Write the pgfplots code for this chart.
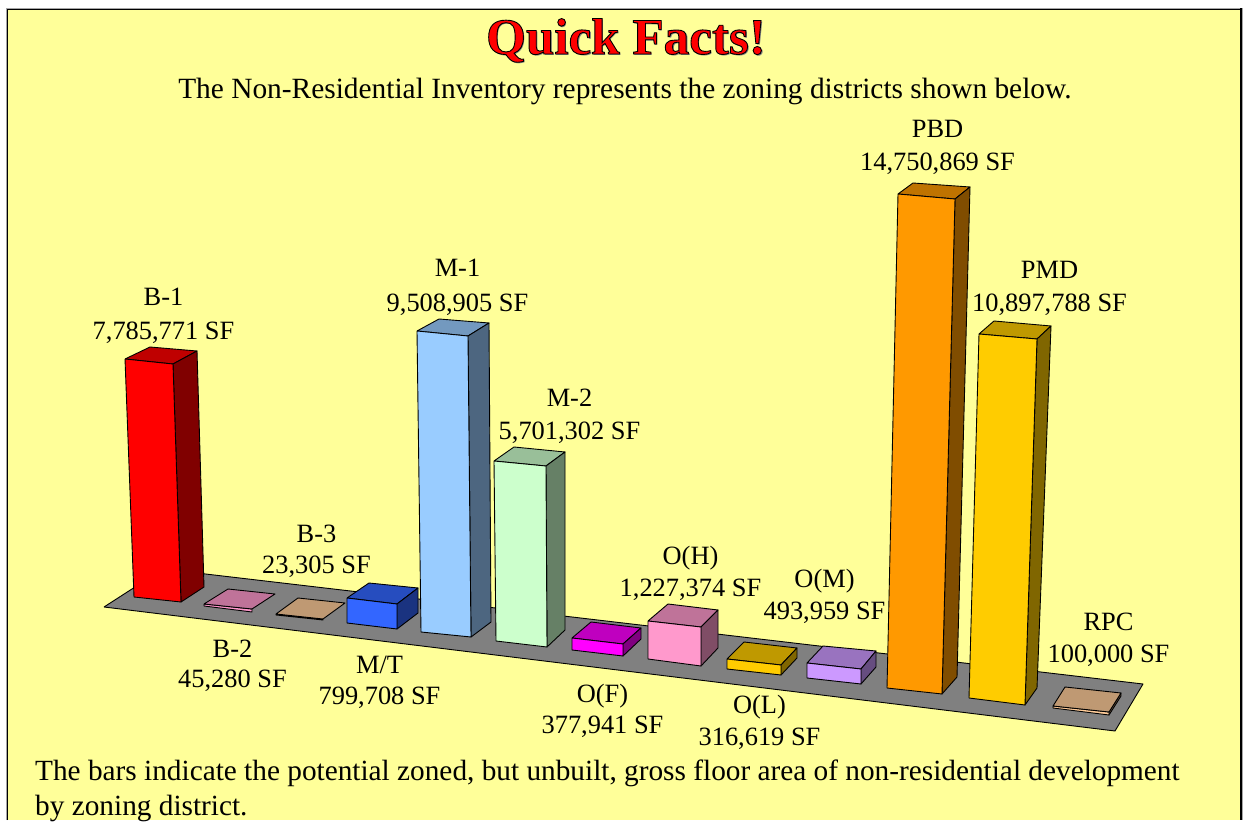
\documentclass[border=0pt]{standalone}
\usepackage{fontspec}
\setmainfont{Liberation Serif}
\usepackage{pgfplots}
\pgfplotsset{compat=1.18}
\definecolor{panel}{HTML}{FFFF99}
\definecolor{floorgray}{HTML}{808080}
\definecolor{redF}{HTML}{FF0000}\definecolor{redT}{HTML}{BF0000}\definecolor{redS}{HTML}{800000}
\definecolor{pinkF}{HTML}{FF99CC}\definecolor{pinkT}{HTML}{BF7399}\definecolor{pinkS}{HTML}{804D66}
\definecolor{tanF}{HTML}{FFCC99}\definecolor{tanT}{HTML}{BF9973}\definecolor{tanS}{HTML}{80664D}
\definecolor{blueF}{HTML}{3366FF}\definecolor{blueT}{HTML}{264DBF}\definecolor{blueS}{HTML}{1A3380}
\definecolor{skyF}{HTML}{99CCFF}\definecolor{skyT}{HTML}{7399BF}\definecolor{skyS}{HTML}{4D6680}
\definecolor{mintF}{HTML}{CCFFCC}\definecolor{mintT}{HTML}{99BF99}\definecolor{mintS}{HTML}{668066}
\definecolor{magF}{HTML}{FF00FF}\definecolor{magT}{HTML}{BF00BF}\definecolor{magS}{HTML}{800080}
\definecolor{goldF}{HTML}{FFCC00}\definecolor{goldT}{HTML}{BF9900}\definecolor{goldS}{HTML}{806600}
\definecolor{lilacF}{HTML}{CC99FF}\definecolor{lilacT}{HTML}{9973BF}\definecolor{lilacS}{HTML}{664D80}
\definecolor{orangeF}{HTML}{FF9900}\definecolor{orangeT}{HTML}{BF7300}\definecolor{orangeS}{HTML}{804D00}

% one polygon of the drawing, in picture pixels
\newcommand{\face}[2]{\addplot[draw=black,line width=0.9pt,line join=round,fill=#1] coordinates {#2};}
% label: x, y of each line, the two lines
\newcommand{\lab}[5]{%
  \node[font=\fontsize{26.5}{26.5}\selectfont,anchor=base,inner sep=0pt,xshift=0.5bp,yshift=-1bp] at (axis cs:#1,#2) {#4};
  \node[font=\fontsize{26.5}{26.5}\selectfont,anchor=base,inner sep=0pt,xshift=0.5bp,yshift=-1bp] at (axis cs:#1,#3) {#5};}

\begin{document}
\begin{tikzpicture}
\begin{axis}[
  scale only axis, width=1246bp, height=820bp,
  xmin=0, xmax=1246, ymin=0, ymax=820, y dir=reverse,
  hide axis, clip=false
]
% page and panel
\addplot[draw=none,fill=white] coordinates {(0,0)(1246,0)(1246,820)(0,820)(0,0)};
\addplot[draw=gray!70,line width=3pt,fill=panel] coordinates {(7,820)(7,9)(1241,9)(1241,820)};
\addplot[draw=black,line width=1.6pt] coordinates {(7.5,820)(7.5,9.5)(1241,9.5)};
\addplot[draw=black,line width=2.6pt] coordinates {(1241,8.5)(1241,820)};

% floor
\face{floorgray}{(104,607)(163,569)(1143,684)(1115,731)(104,607)}

% B-1
\face{redT}{(125,359)(150,347)(197,351)(173,364)(125,359)}
\face{redS}{(173,364)(197,351)(204,587)(181,602)(173,364)}
\face{redF}{(125,359)(173,364)(181,602)(134,597)(125,359)}
% B-2
\face{pinkF}{(204,604)(252,609)(252,612)(204,606)(204,604)}
\face{pinkT}{(204,604)(228,589)(275,594)(252,609)(204,604)}
% B-3
\face{tanF}{(276,614)(323,619)(323,620)(276,615)(276,614)}
\face{tanT}{(276,614)(298,598)(345,603)(323,619)(276,614)}
% M/T
\face{blueT}{(347,598)(369,583)(418,588)(397,604)(347,598)}
\face{blueS}{(397,604)(418,588)(418,613)(397,629)(397,604)}
\face{blueF}{(347,598)(397,604)(397,629)(347,623)(347,598)}
% M-1
\face{skyT}{(417,331)(439,319)(489,323)(468,336)(417,331)}
\face{skyS}{(468,336)(489,323)(491,622)(471,637)(468,336)}
\face{skyF}{(417,331)(468,336)(471,637)(421,632)(417,331)}
% M-2
\face{mintT}{(494,461)(514,447)(565,452)(546,466)(494,461)}
\face{mintS}{(546,466)(565,452)(565,630)(547,647)(546,466)}
\face{mintF}{(494,461)(546,466)(547,647)(496,641)(494,461)}
% O(F)
\face{magT}{(572,638)(591,622)(641,628)(623,644)(572,638)}
\face{magS}{(623,644)(641,628)(641,639)(623,656)(623,644)}
\face{magF}{(572,638)(623,644)(623,656)(572,650)(572,638)}
% O(H)
\face{pinkT}{(648,621)(668,604)(718,610)(701,627)(648,621)}
\face{pinkS}{(701,627)(718,610)(718,648)(701,666)(701,627)}
\face{pinkF}{(648,621)(701,627)(701,666)(648,659)(648,621)}
% O(L)
\face{goldT}{(727,659)(744,642)(797,648)(781,665)(727,659)}
\face{goldS}{(781,665)(797,648)(797,658)(781,675)(781,665)}
\face{goldF}{(727,659)(781,665)(781,675)(727,669)(727,659)}
% O(M)
\face{lilacT}{(807,663)(823,646)(876,651)(861,669)(807,663)}
\face{lilacS}{(861,669)(876,651)(876,667)(861,684)(861,669)}
\face{lilacF}{(807,663)(861,669)(861,684)(807,678)(807,663)}
% PBD
\face{orangeT}{(898,194)(913,183)(970,187)(955,199)(898,194)}
\face{orangeS}{(955,199)(970,187)(957,677)(942,694)(955,199)}
\face{orangeF}{(898,194)(955,199)(942,694)(887,688)(898,194)}
% PMD
\face{goldT}{(979,334)(994,321)(1051,326)(1037,339)(979,334)}
\face{goldS}{(1037,339)(1051,326)(1037,688)(1025,705)(1037,339)}
\face{goldF}{(979,334)(1037,339)(1025,705)(969,698)(979,334)}
% RPC
\face{tanS}{(1109,712)(1121,693)(1121,696)(1109,715)(1109,712)}
\face{tanF}{(1053,706)(1109,712)(1109,715)(1053,708)(1053,706)}
\face{tanT}{(1053,706)(1065,687)(1121,693)(1109,712)(1053,706)}

% title and captions
\node[font=\bfseries\fontsize{51.3}{51.3}\selectfont,anchor=base,text=gray,inner sep=0pt] at (axis cs:627.5,55.5) {Quick Facts!};
\node[font=\bfseries\fontsize{51.3}{51.3}\selectfont,anchor=base,text=red,inner sep=0pt] at (axis cs:626,54) {\special{pdf:code 2 Tr 0.9 w 0 0 0 RG}Quick Facts!\special{pdf:code 0 Tr}};
\node[font=\fontsize{29.5}{29.5}\selectfont,anchor=base,inner sep=0pt] at (axis cs:625,99) {The Non-Residential Inventory represents the zoning districts shown below.};
\node[font=\fontsize{29.4}{29.4}\selectfont,anchor=base west,inner sep=0pt] at (axis cs:35,780) {The bars indicate the potential zoned, but unbuilt, gross floor area of non-residential development};
\node[font=\fontsize{29.4}{29.4}\selectfont,anchor=base west,inner sep=0pt] at (axis cs:35,815) {by zoning district.};

% district labels
\lab{163}{305}{339}{B-1}{7,785,771 SF}
\lab{232}{656}{686}{B-2}{45,280 SF}
\lab{316}{541}{572}{B-3}{23,305 SF}
\lab{379}{672}{703}{M/T}{799,708 SF}
\lab{457}{276}{311}{M-1}{9,508,905 SF}
\lab{569}{406}{439}{M-2}{5,701,302 SF}
\lab{602}{701}{732}{O(F)}{377,941 SF}
\lab{690}{563}{595}{O(H)}{1,227,374 SF}
\lab{759}{712}{744}{O(L)}{316,619 SF}
\lab{824}{586}{618}{O(M)}{493,959 SF}
\lab{937}{137}{170}{PBD}{14,750,869 SF}
\lab{1049}{278}{311}{PMD}{10,897,788 SF}
\lab{1108}{629}{661}{RPC}{100,000 SF}
\end{axis}
\end{tikzpicture}
\end{document}
